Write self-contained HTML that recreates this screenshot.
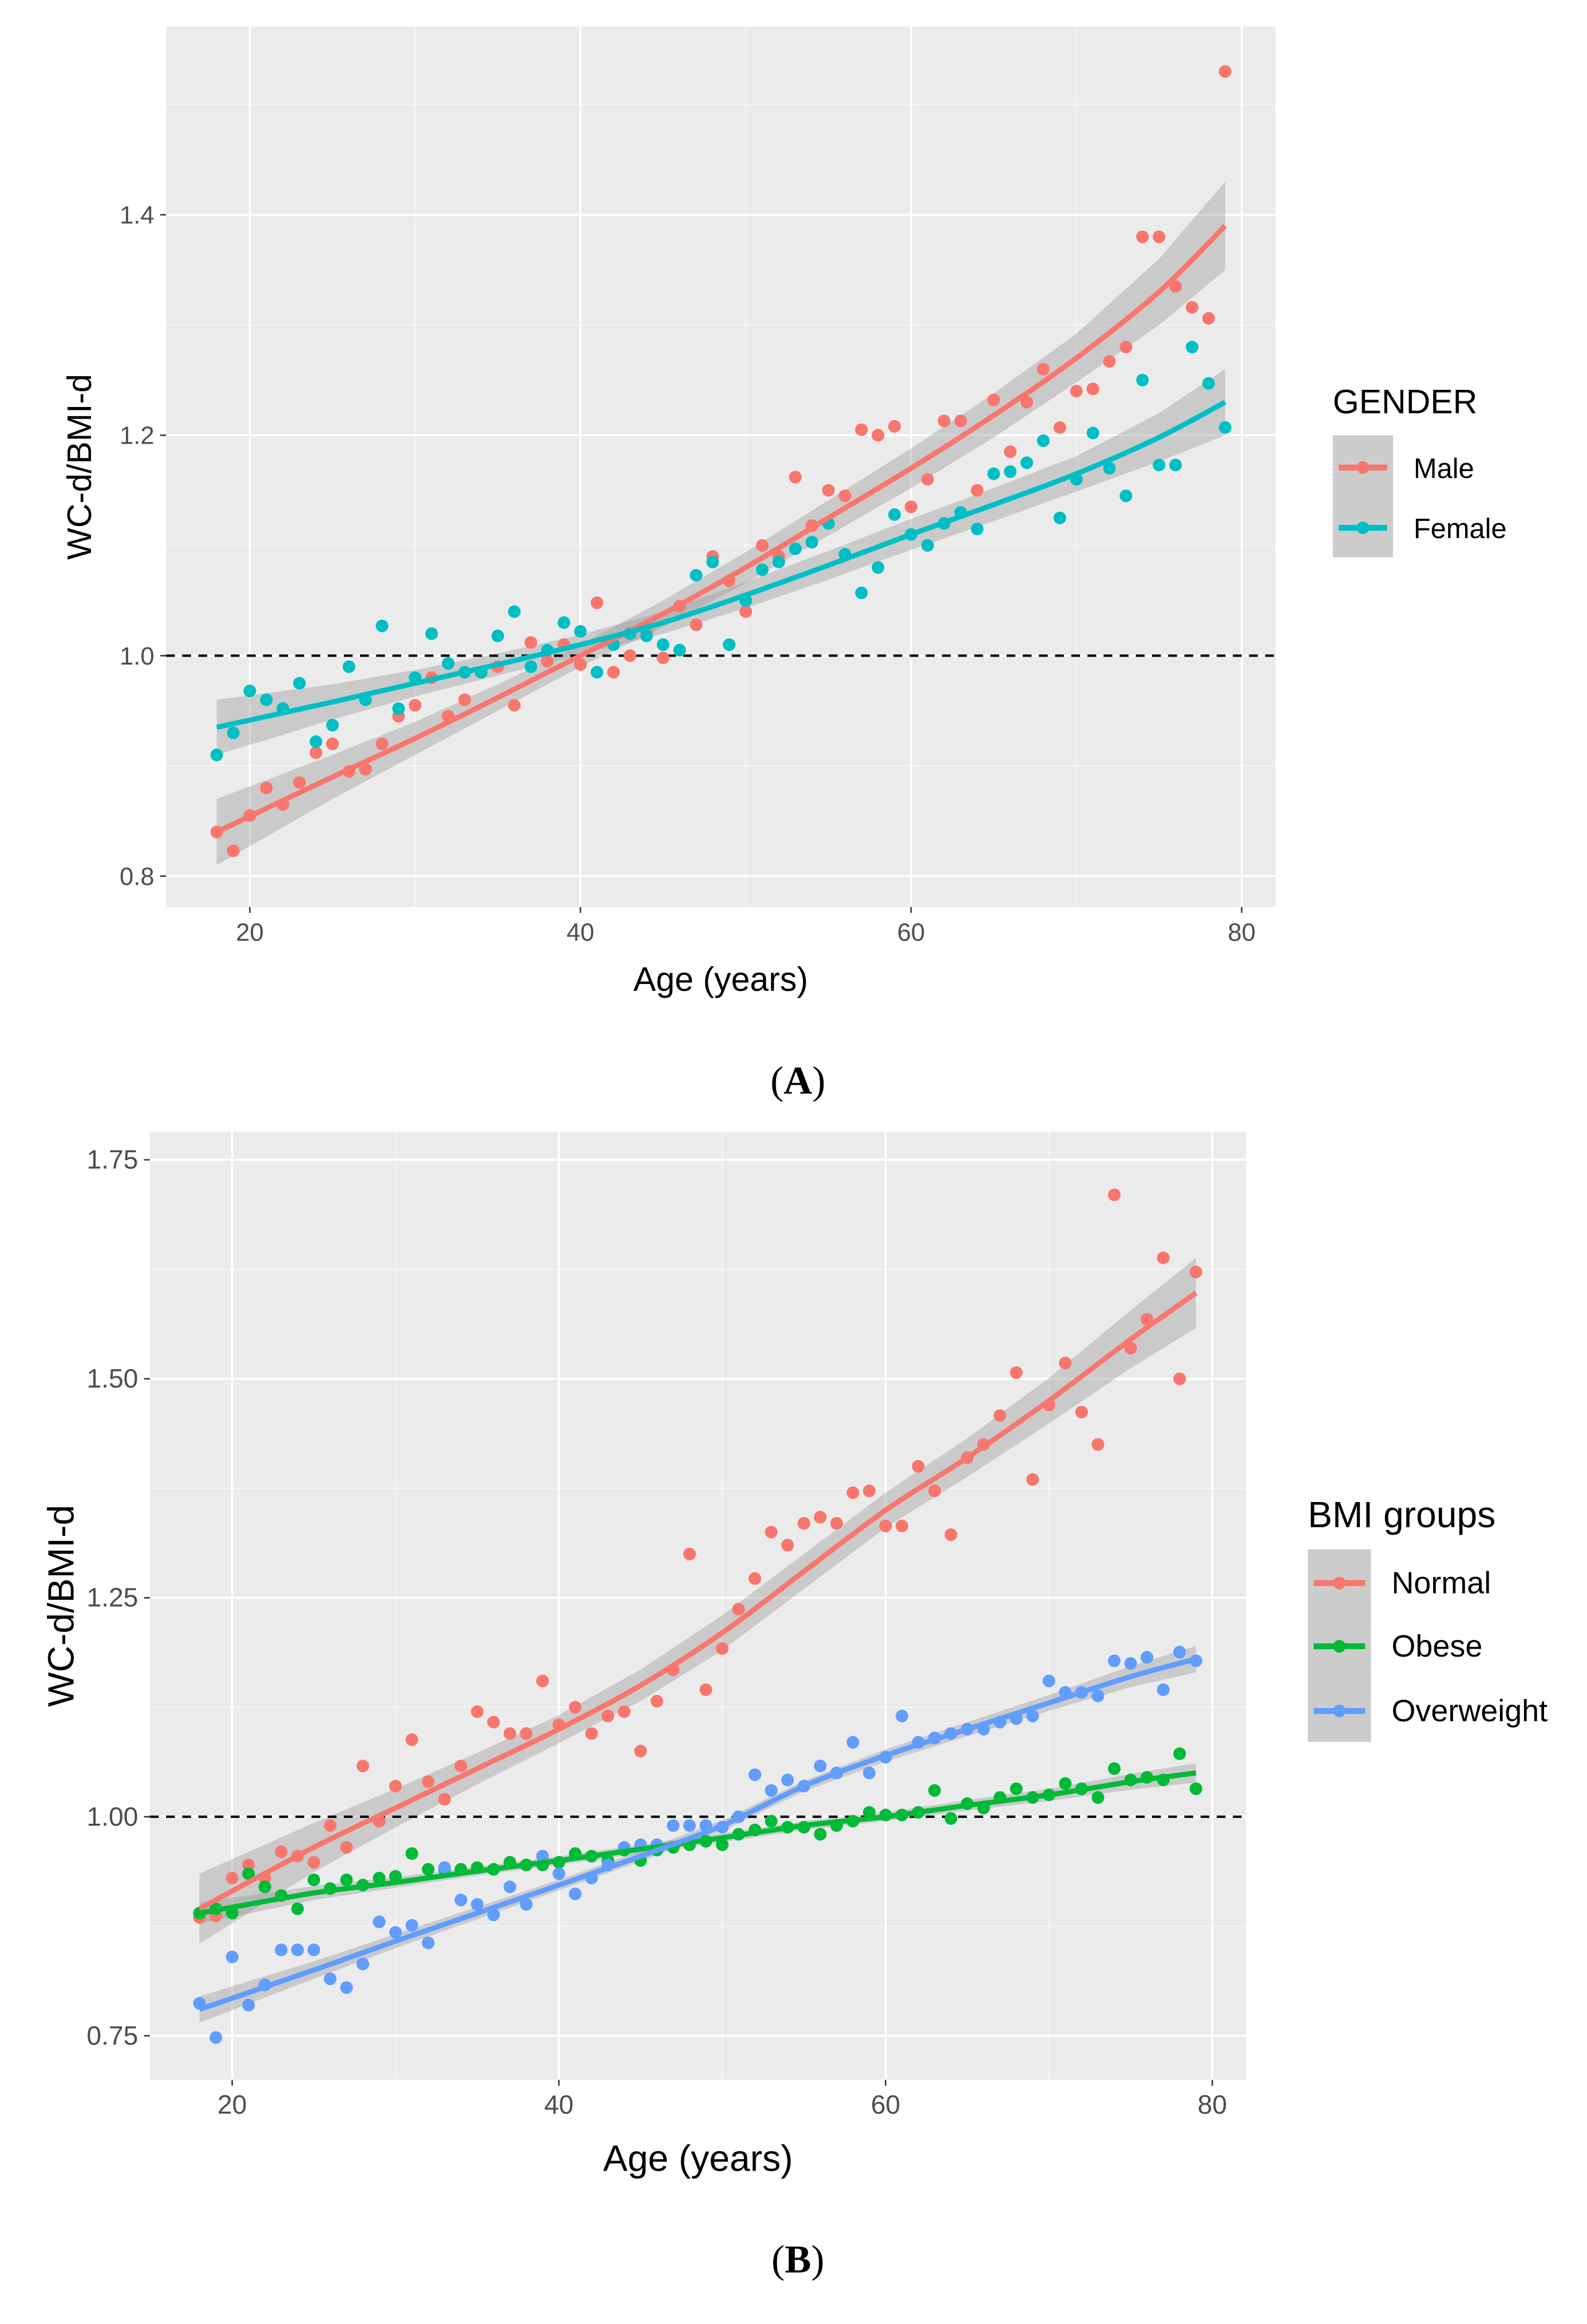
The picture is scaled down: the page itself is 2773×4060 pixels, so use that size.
<!DOCTYPE html>
<html><head><meta charset="utf-8">
<style>
html,body{margin:0;padding:0;background:#fff;}
svg{display:block;}
text{font-family:"Liberation Sans",Arial,sans-serif;}
</style></head>
<body>
<svg id="fig" xmlns="http://www.w3.org/2000/svg" width="2773" height="4060" viewBox="0 0 1080 1581"></svg>
<script>
// ---------- Panel A data ----------
const agesA = [18,19,20,21,22,23,24,25,26,27,28,29,30,31,32,33,34,35,36,37,38,39,40,41,42,43,44,45,46,47,48,49,50,51,52,53,54,55,56,57,58,59,60,61,62,63,64,65,66,67,68,69,70,71,72,73,74,75,76,77,78,79];
const maleVals = [.84,.823,.855,.88,.865,.885,.912,.92,.895,.897,.92,.945,.955,.98,.945,.96,.985,.99,.955,1.012,.995,1.01,.992,1.048,.985,1.0,1.02,.998,1.045,1.028,1.09,1.068,1.04,1.1,1.09,1.162,1.118,1.15,1.145,1.205,1.2,1.208,1.135,1.16,1.213,1.213,1.15,1.232,1.185,1.23,1.26,1.207,1.24,1.242,1.267,1.28,1.38,1.38,1.335,1.316,1.306,1.53];
const femaleVals = [.91,.93,.968,.96,.952,.975,.922,.937,.99,.96,1.027,.952,.98,1.02,.993,.985,.985,1.018,1.04,.99,1.005,1.03,1.022,.985,1.01,1.02,1.018,1.01,1.005,1.073,1.085,1.01,1.05,1.078,1.085,1.097,1.103,1.12,1.092,1.057,1.08,1.128,1.11,1.1,1.12,1.13,1.115,1.165,1.167,1.175,1.195,1.125,1.16,1.202,1.17,1.145,1.25,1.173,1.173,1.28,1.247,1.207];
const fitAgesA = [18,25,30,35,40,45,50,55,60,65,70,75,79];
const maleFit = [.84,.89,.925,.962,1.0,1.038,1.08,1.125,1.17,1.218,1.27,1.33,1.39];
const femaleFit = [.935,.958,.975,.992,1.01,1.03,1.055,1.082,1.11,1.137,1.165,1.198,1.23];
const maleBand = [.03,.02,.015,.012,.01,.012,.014,.016,.018,.02,.022,.03,.04];
const femaleBand = [.025,.016,.012,.01,.009,.01,.012,.013,.014,.015,.016,.022,.03];
const xTicksA = [20,40,60,80];
const yTicksA = [0.8,1.0,1.2,1.4];
// ---------- Panel B data ----------
const agesB = agesA;
const normalVals = [.885,.887,.93,.945,.93,.96,.955,.948,.99,.965,1.058,.995,1.035,1.088,1.04,1.02,1.058,1.12,1.108,1.095,1.095,1.155,1.105,1.125,1.095,1.115,1.12,1.075,1.132,1.168,1.3,1.145,1.192,1.237,1.272,1.325,1.31,1.335,1.342,1.335,1.37,1.372,1.332,1.332,1.4,1.372,1.322,1.41,1.425,1.458,1.507,1.385,1.47,1.518,1.462,1.425,1.71,1.535,1.568,1.638,1.5,1.622];
const obeseVals = [.89,.895,.89,.935,.92,.91,.895,.928,.918,.928,.922,.93,.932,.958,.94,.94,.94,.942,.94,.948,.945,.945,.948,.958,.955,.95,.962,.95,.962,.965,.968,.972,.968,.98,.985,.995,.988,.988,.98,.99,.995,1.005,1.002,1.002,1.005,1.03,.998,1.015,1.01,1.022,1.032,1.022,1.025,1.038,1.032,1.022,1.055,1.042,1.045,1.042,1.072,1.032];
const overVals = [.787,.748,.84,.785,.808,.848,.848,.848,.815,.805,.832,.88,.868,.876,.856,.942,.905,.9,.888,.92,.9,.955,.935,.912,.93,.945,.965,.968,.968,.99,.99,.99,.988,1.0,1.048,1.03,1.042,1.035,1.058,1.05,1.085,1.05,1.068,1.115,1.085,1.09,1.095,1.1,1.1,1.108,1.112,1.115,1.155,1.142,1.142,1.138,1.178,1.175,1.182,1.145,1.188,1.178];
const fitAgesB = [18,25,30,35,40,45,50,55,60,65,70,75,79];
const normalFit = [.895,.965,1.01,1.055,1.1,1.15,1.21,1.28,1.35,1.41,1.475,1.545,1.598];
const obeseFit = [.89,.913,.925,.938,.95,.963,.976,.99,1.0,1.013,1.025,1.04,1.05];
const overFit = [.78,.825,.858,.89,.922,.955,.99,1.035,1.07,1.1,1.13,1.16,1.18];
const normalBand = [.04,.028,.022,.018,.016,.018,.02,.02,.02,.022,.026,.033,.04];
const obeseBand = [.012,.008,.006,.005,.005,.005,.005,.005,.005,.006,.007,.009,.011];
const overBand = [.015,.01,.008,.007,.006,.006,.006,.006,.007,.008,.009,.012,.015];
const xTicksB = [20,40,60,80];
const yTicksB = [0.75,1.00,1.25,1.50,1.75];

const NS = "http://www.w3.org/2000/svg";
const svg = document.getElementById('fig');
function mk(tag, attrs, parent){
  const e = document.createElementNS(NS, tag);
  for (const k in attrs) e.setAttribute(k, attrs[k]);
  (parent||svg).appendChild(e); return e;
}
function lin(d0,d1,r0,r1){ return v => r0 + (v-d0)*(r1-r0)/(d1-d0); }

function panel(cfg){
  const g = mk('g',{});
  
  
  const X = cfg.X, Y = cfg.Y;
  const bg = mk('rect',{x:cfg.l,y:cfg.t,width:cfg.r-cfg.l,height:cfg.b-cfg.t,fill:'#ebebeb'},g);
  
  
  cfg.minorX.forEach(v=>mk('line',{x1:X(v),x2:X(v),y1:cfg.t,y2:cfg.b,stroke:'#f7f7f7','stroke-width':0.7},g));
  cfg.minorY.forEach(v=>mk('line',{x1:cfg.l,x2:cfg.r,y1:Y(v),y2:Y(v),stroke:'#f7f7f7','stroke-width':0.7},g));
  cfg.xTicks.forEach(v=>mk('line',{x1:X(v),x2:X(v),y1:cfg.t,y2:cfg.b,stroke:'#fff','stroke-width':1.4},g));
  cfg.yTicks.forEach(v=>mk('line',{x1:cfg.l,x2:cfg.r,y1:Y(v),y2:Y(v),stroke:'#fff','stroke-width':1.4},g));
  cfg.xTicks.forEach(v=>{
    mk('line',{x1:X(v),x2:X(v),y1:cfg.b,y2:cfg.b+4,stroke:'#333','stroke-width':1},g);
    const t = mk('text',{x:X(v),y:cfg.b+23,'font-size':cfg.tickFs,fill:'#4d4d4d','text-anchor':'middle'},g);
    t.textContent = v;
    
    
  });
  cfg.yTicks.forEach(v=>{
    mk('line',{x1:cfg.l-4,x2:cfg.l,y1:Y(v),y2:Y(v),stroke:'#333','stroke-width':1},g);
    const t = mk('text',{x:cfg.l-8,y:Y(v)+6,'font-size':cfg.tickFs,fill:'#4d4d4d','text-anchor':'end'},g);
    t.textContent = v.toFixed(cfg.yDec);
    
    
  });
  cfg.series.forEach(s=>{
    let d = s.fitX.map((a,i)=>(i?'L':'M')+X(a)+','+Y(s.fit[i]+s.band[i])).join('');
    for (let i=s.fitX.length-1;i>=0;i--) d += 'L'+X(s.fitX[i])+','+Y(s.fit[i]-s.band[i]);
    const p = mk('path',{d:d+'Z',fill:'#999','fill-opacity':0.4},g);
    
    
  });
  const ref = mk('line',{x1:cfg.l,x2:cfg.r,y1:Y(1),y2:Y(1),stroke:'#000','stroke-width':1.6,'stroke-dasharray':'6,5'},g);
  
  
  cfg.series.forEach(s=>{
    s.ages.forEach((a,i)=>{
      const c = mk('circle',{cx:X(a),cy:Y(s.vals[i]),r:4.3,fill:s.color},g);
      
      
    });
  });
  cfg.series.forEach(s=>{
    const pts = s.fitX.map((a,i)=>[X(a),Y(s.fit[i])]);
    let d = 'M'+pts[0];
    for (let i=0;i<pts.length-1;i++){
      const p0=pts[Math.max(i-1,0)],p1=pts[i],p2=pts[i+1],p3=pts[Math.min(i+2,pts.length-1)];
      d+='C'+(p1[0]+(p2[0]-p0[0])/6)+','+(p1[1]+(p2[1]-p0[1])/6)+' '+(p2[0]-(p3[0]-p1[0])/6)+','+(p2[1]-(p3[1]-p1[1])/6)+' '+p2[0]+','+p2[1];
    }
    const p = mk('path',{d:d,fill:'none',stroke:s.color,'stroke-width':3.5},g);
    
    
  });
  const xt = mk('text',{x:(cfg.l+cfg.r)/2,y:cfg.b+cfg.xTitleDy,'font-size':cfg.titleFs,fill:'#000','text-anchor':'middle'},g);
  xt.textContent='Age (years)';
  
  
  const yy=(cfg.t+cfg.b)/2;
  const yt = mk('text',{x:cfg.yTitleX,y:yy,'font-size':cfg.titleFs,fill:'#000','text-anchor':'middle',transform:'rotate(-90 '+cfg.yTitleX+' '+yy+')'},g);
  yt.textContent='WC-d/BMI-d';
  
  
  const L = cfg.legend;
  const lt = mk('text',{x:L.x,y:L.titleY,'font-size':L.titleFs,fill:'#000'},g);
  lt.textContent = L.title;
  
  
  mk('rect',{x:L.x,y:L.boxT,width:L.w,height:L.boxB-L.boxT,fill:'#cccccc'},g);
  cfg.series.forEach((s,i)=>{
    const ly = L.ys[i];
    const eg = mk('g',{},g);
    
    
    mk('line',{x1:L.x+4,x2:L.x+L.w-4,y1:ly,y2:ly,stroke:s.color,'stroke-width':4},eg);
    mk('circle',{cx:L.x+L.w/2,cy:ly,r:4.3,fill:s.color},eg);
    const t = mk('text',{x:L.x+L.w+14,y:ly+7,'font-size':L.fs,fill:'#000'},eg);
    t.textContent = s.label;
  });
}

panel({
  name:'panel-a-chart', l:113,r:868,t:18,b:617,
  X:lin(20,80,170,845), Y:lin(1.0,1.4,446,146),
  xTicks:xTicksA, yTicks:yTicksA, minorX:[30,50,70], minorY:[0.9,1.1,1.3,1.5],
  yDec:1, tickFs:17, titleFs:23, xTitleDy:57, yTitleX:62,
  series:[
    {key:'male',label:'Male',color:'#f8766d',ages:agesA,vals:maleVals,fitX:fitAgesA,fit:maleFit,band:maleBand},
    {key:'female',label:'Female',color:'#00bfc4',ages:agesA,vals:femaleVals,fitX:fitAgesA,fit:femaleFit,band:femaleBand}
  ],
  legend:{title:'GENDER',x:907,titleY:281,titleFs:23,boxT:296,boxB:379,w:41,ys:[318,359],fs:19}
});
panel({
  name:'panel-b-chart', l:102,r:848,t:770,b:1415,
  X:lin(20,80,158,825), Y:lin(1.0,1.75,1236,789),
  xTicks:xTicksB, yTicks:yTicksB, minorX:[30,50,70], minorY:[0.875,1.125,1.375,1.625],
  yDec:2, tickFs:18, titleFs:25, xTitleDy:62, yTitleX:50,
  series:[
    {key:'normal',label:'Normal',color:'#f8766d',ages:agesB,vals:normalVals,fitX:fitAgesB,fit:normalFit,band:normalBand},
    {key:'obese',label:'Obese',color:'#00ba38',ages:agesB,vals:obeseVals,fitX:fitAgesB,fit:obeseFit,band:obeseBand},
    {key:'overweight',label:'Overweight',color:'#619cff',ages:agesB,vals:overVals,fitX:fitAgesB,fit:overFit,band:overBand}
  ],
  legend:{title:'BMI groups',x:890,titleY:1039,titleFs:25,boxT:1054,boxB:1185,w:43,ys:[1077,1120,1164],fs:21}
});

function caption(txt,y,name){
  const t = mk('text',{x:543,y:y,'font-size':27,'text-anchor':'middle',fill:'#000',style:'font-family:"Liberation Serif",serif'});
  t.innerHTML = '(<tspan font-weight="bold">'+txt+'</tspan>)';
  
  
}
caption('A',744,'caption-a');
caption('B',1546,'caption-b');
</script>
</body></html>
